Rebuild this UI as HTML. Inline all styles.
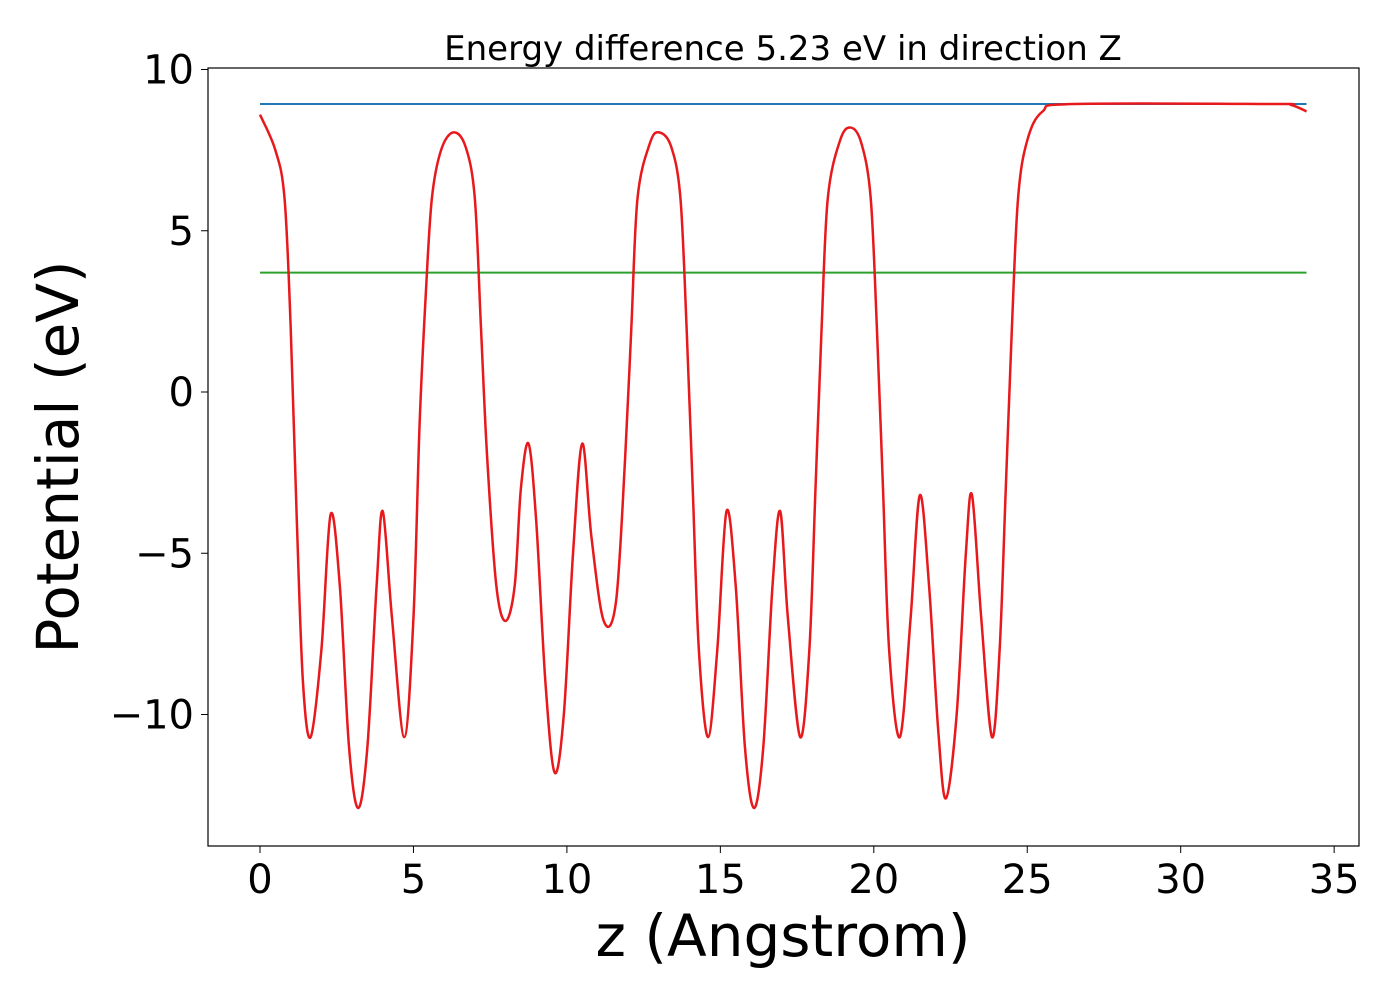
<!DOCTYPE html>
<html><head><meta charset="utf-8"><style>
html,body{margin:0;padding:0;background:#fff}
svg{display:block;font-family:"DejaVu Sans","Liberation Sans",sans-serif}
</style></head><body>
<svg id="chart" width="1400" height="1000" viewBox="0 0 1400 1000">
<rect x="208" y="68" width="1151" height="778" fill="#fff" stroke="#000" stroke-width="1.2"/>
<g id="ticks"></g>
<g id="series"></g>
<text x="783" y="60" font-size="34" text-anchor="middle">Energy difference 5.23 eV in direction Z</text>
<text x="783" y="956" font-size="58" text-anchor="middle">z (Angstrom)</text>
<text transform="translate(78,457) rotate(-90)" font-size="58" text-anchor="middle">Potential (eV)</text>
</svg>
<script>
const xTicks=[0,5,10,15,20,25,30,35];
const yTicks=[10,5,0,-5,-10];
const vacuumLevel=8.93;
const fermiLevel=3.7;
const zStart=0, zEnd=34.1;
const zVals=[0,0.5,0.8,1.0,1.2,1.4,1.65,2.0,2.3,2.6,2.9,3.2,3.5,3.8,4.0,4.3,4.7,5.0,5.2,5.4,5.6,5.9,6.3,6.7,7.0,7.2,7.4,7.7,8.0,8.3,8.5,8.75,9.0,9.3,9.6,9.9,10.2,10.5,10.8,11.2,11.6,11.9,12.1,12.3,12.7,13.0,13.4,13.7,13.9,14.1,14.3,14.6,14.9,15.2,15.5,15.8,16.1,16.4,16.7,16.95,17.2,17.6,17.9,18.1,18.3,18.5,18.9,19.25,19.6,19.9,20.1,20.3,20.5,20.85,21.2,21.5,21.8,22.1,22.35,22.7,23.0,23.2,23.5,23.85,24.1,24.3,24.5,24.7,25.0,25.5,26.5,33.0,33.6,34.1];
const vVals=[8.6,7.5,6,2,-4,-9,-10.7,-8,-3.8,-6,-11,-12.9,-11,-6,-3.7,-7,-10.7,-7,-1,3,6,7.5,8.05,7.6,6,2,-2,-6,-7.1,-6,-3,-1.6,-4,-9,-11.8,-10,-5,-1.6,-4.5,-7.1,-6.5,-2,2,6,7.7,8.05,7.6,6,2,-3,-8,-10.7,-8,-3.7,-6,-11,-12.9,-11,-6,-3.7,-7,-10.7,-8,-3,2,6,7.8,8.2,7.7,6,2,-3,-8,-10.7,-7,-3.2,-6,-10.5,-12.6,-10,-5,-3.2,-7,-10.7,-8,-3,2,6,7.8,8.7,8.93,8.93,8.9,8.7];
const X=z=>260+z*30.69;
const Y=v=>392-v*32.25;
const NS="http://www.w3.org/2000/svg";
const tk=document.getElementById('ticks');
xTicks.forEach(t=>{
  const l=document.createElementNS(NS,'line');
  
  
  l.setAttribute('x1',X(t));l.setAttribute('x2',X(t));l.setAttribute('y1',846);l.setAttribute('y2',853);l.setAttribute('stroke','#000');
  tk.appendChild(l);
  const s=document.createElementNS(NS,'text');
  
  
  s.setAttribute('x',X(t));s.setAttribute('y',893);s.setAttribute('font-size','40');s.setAttribute('text-anchor','middle');
  s.textContent=t;tk.appendChild(s);
});
yTicks.forEach(t=>{
  const l=document.createElementNS(NS,'line');
  
  
  l.setAttribute('x1',201);l.setAttribute('x2',208);l.setAttribute('y1',Y(t));l.setAttribute('y2',Y(t));l.setAttribute('stroke','#000');
  tk.appendChild(l);
  const s=document.createElementNS(NS,'text');
  
  
  s.setAttribute('x',194);s.setAttribute('y',Y(t)+14);s.setAttribute('font-size','40');s.setAttribute('text-anchor','end');
  s.textContent=t<0?'\u2212'+Math.abs(t):t;tk.appendChild(s);
});
const sr=document.getElementById('series');
function hline(v,c,name){
  const l=document.createElementNS(NS,'line');
  
  
  l.setAttribute('x1',X(zStart));l.setAttribute('x2',X(zEnd));l.setAttribute('y1',Y(v));l.setAttribute('y2',Y(v));
  l.setAttribute('stroke',c);l.setAttribute('stroke-width','2');sr.appendChild(l);
}
hline(vacuumLevel,'#1f77b4','vacuum-level-line');
hline(fermiLevel,'#2ca02c','fermi-level-line');
const P=zVals.map((z,i)=>[X(z),Y(vVals[i])]);
let d='M'+P[0][0]+','+P[0][1];
for(let i=0;i<P.length-1;i++){
  const p0=P[i-1]||P[i],p1=P[i],p2=P[i+1],p3=P[i+2]||p2;
  const c1=[p1[0]+(p2[0]-p0[0])/6,p1[1]+(p2[1]-p0[1])/6];
  const c2=[p2[0]-(p3[0]-p1[0])/6,p2[1]-(p3[1]-p1[1])/6];
  d+=` C${c1[0]},${c1[1]} ${c2[0]},${c2[1]} ${p2[0]},${p2[1]}`;
}
const pa=document.createElementNS(NS,'path');


pa.setAttribute('d',d);pa.setAttribute('fill','none');pa.setAttribute('stroke','#e8191c');pa.setAttribute('stroke-width','2.5');
sr.appendChild(pa);
</script>
</body></html>
